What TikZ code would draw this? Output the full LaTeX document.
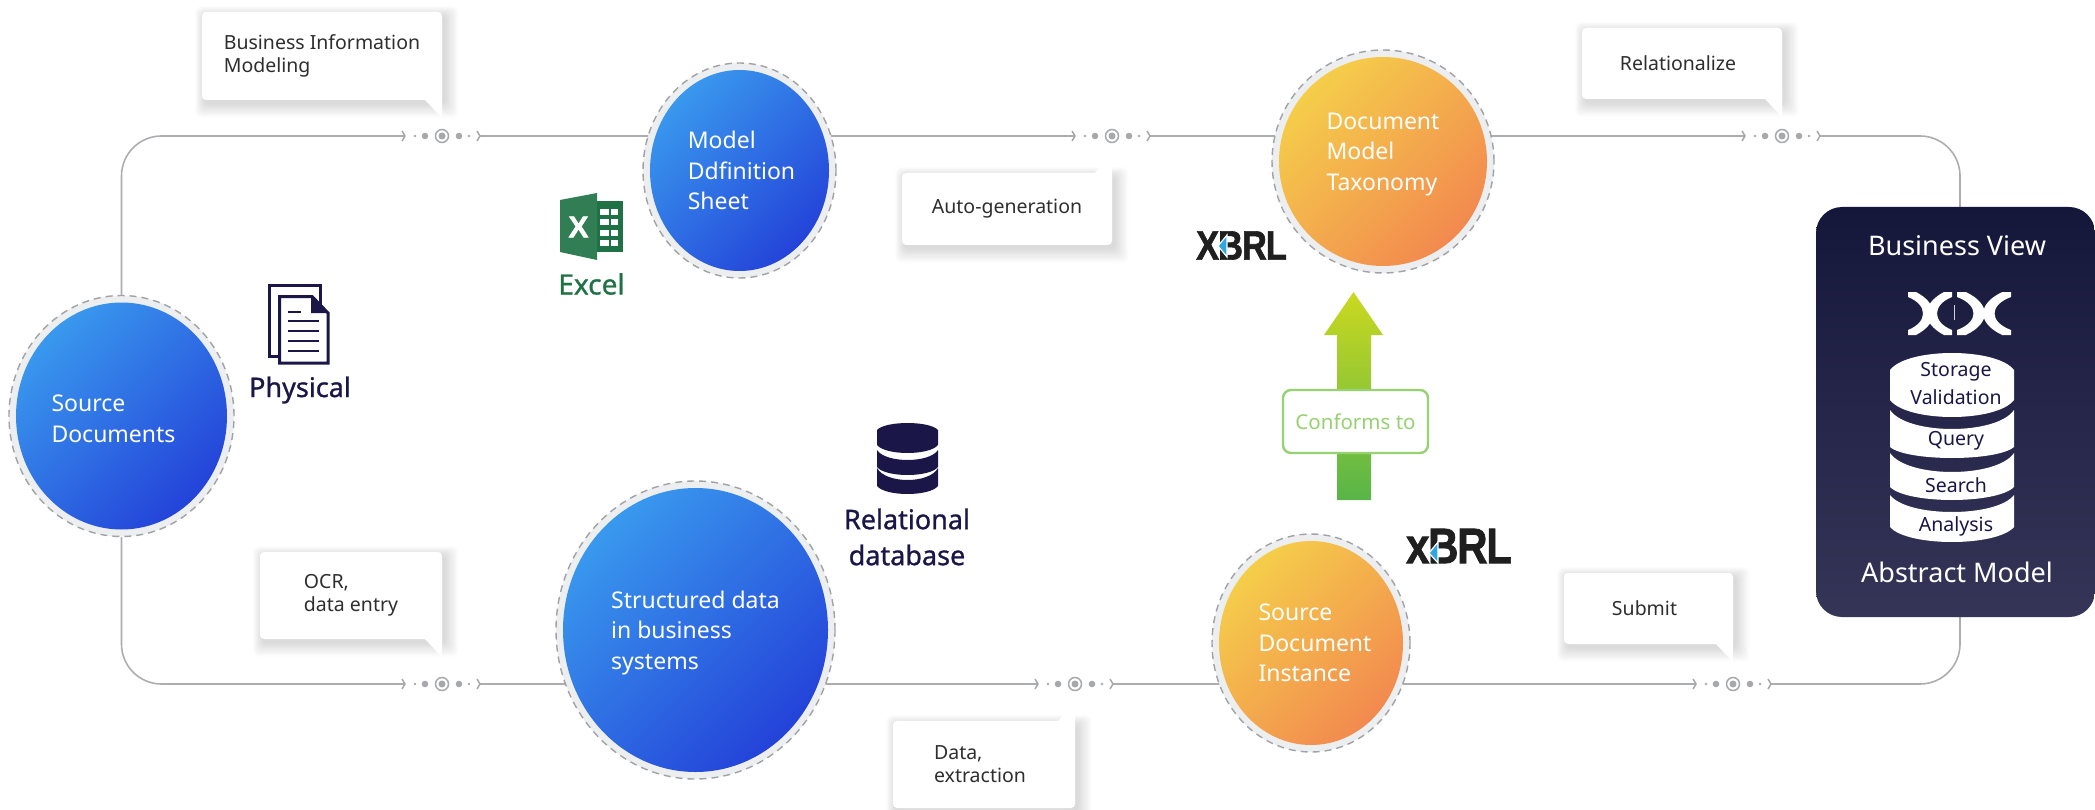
\documentclass[tikz,border=0pt]{standalone}
\usepackage{fontspec}
\setmainfont{Noto Sans}
\newfontfamily\headfont[FakeBold=1]{Noto Sans}
\newfontfamily\logofont[FakeBold=1.6,LetterSpace=-3]{Liberation Sans}
\usetikzlibrary{positioning}
\usetikzlibrary{shapes.geometric}
\pgfdeclarelayer{edgelayer}
\pgfsetlayers{edgelayer,main}
\definecolor{navyink}{HTML}{1A1648}
\definecolor{linegray}{HTML}{ABADB0}
\definecolor{dotgray}{HTML}{A6A8AB}
\definecolor{ringfill}{HTML}{ECEEF0}
\definecolor{ringdash}{HTML}{A0A2A5}
\definecolor{excelgreen}{HTML}{1F7245}
\definecolor{okgreen}{HTML}{96D172}
\definecolor{orbblueA}{HTML}{3A9BEE}
\definecolor{orbblueB}{HTML}{2340D8}
\definecolor{orbsunA}{HTML}{F5D04A}
\definecolor{orbsunB}{HTML}{F2874F}
\definecolor{panelA}{HTML}{15173A}
\definecolor{panelB}{HTML}{353558}
\definecolor{arrowA}{HTML}{CBD820}
\definecolor{arrowB}{HTML}{58B549}
\definecolor{logoblue}{HTML}{2FA8E0}
\tikzset{
  flow/.style={draw=linegray,line width=1.6pt},
  ringdot/.style={circle,draw=dotgray,line width=1.5pt,fill=white,minimum size=13pt,inner sep=0pt},
  bubble/.style={fill=white,rounded corners=4pt,inner sep=0pt,align=left,text=black!82,font=\fontsize{19.5}{23}\selectfont},
  orb/.style={ellipse,draw=ringdash,line width=1.4pt,dash pattern=on 7pt off 5pt,fill=ringfill,inner sep=0pt},
  clabel/.style={text=white,align=left,inner sep=0pt,font=\fontsize{23}{30.5}\selectfont},
  blueorb/.style={orb,path picture={\shade[top color=orbblueA,bottom color=orbblueB,shading angle=45]
    (path picture bounding box.center) ellipse [x radius=\pgfkeysvalueof{/pgf/minimum width}/2-7pt,y radius=\pgfkeysvalueof{/pgf/minimum height}/2-7pt];}},
  orangeorb/.style={orb,path picture={\shade[top color=orbsunA,bottom color=orbsunB,shading angle=45]
    (path picture bounding box.center) ellipse [x radius=\pgfkeysvalueof{/pgf/minimum width}/2-7pt,y radius=\pgfkeysvalueof{/pgf/minimum height}/2-7pt];}},
  headtext/.style={text=navyink,align=center,inner sep=0pt,font=\headfont\fontsize{27}{36}\selectfont},
  stacktext/.style={text=navyink,inner sep=0pt,font=\fontsize{19.5}{24}\selectfont},
  paneltext/.style={text=white,inner sep=0pt,font=\fontsize{27}{32}\selectfont},
  logotext/.style={text=black!88,inner sep=0pt},
  logotri/.style={fill=logoblue,draw=white,line width=1.2pt}
}
% ring in the middle, dots either side, a chevron at each open end
\newcommand{\flowmark}[2]{
  \node (#1) [ringdot] at (#2) {};
  \fill[dotgray] (#1.center) circle (3.5);
  \foreach \d/\r in {-27/1.4,-17/3.3,17/3.3,27/1.4}
    \fill[dotgray] ([xshift=\d pt]#1.center) circle (\r);
  \coordinate (#1in) at ([xshift=-37pt]#1.center);
  \coordinate (#1out) at ([xshift=38pt]#1.center);
  \foreach \e in {#1in,#1out}
    \draw[dotgray,line width=1.5pt] ([shift={(-3,-5)}]\e) -- (\e) -- ([shift={(-3,5)}]\e);
}
% one slice of a stack: style, left, width, side top, middle top, side bottom, middle bottom
\newcommand{\stackseg}[7]{
  \fill[#1] (#2,#4) .. controls (#2+.14*#3,{#4+(#5-#4)*4/3}) and (#2+.86*#3,{#4+(#5-#4)*4/3}) .. (#2+#3,#4)
    -- (#2+#3,#6) .. controls (#2+.86*#3,{#6+(#7-#6)*4/3}) and (#2+.14*#3,{#6+(#7-#6)*4/3}) .. (#2,#6) -- cycle;
}
\begin{document}
\begin{tikzpicture}[x=1pt,y=-1pt]
\useasboundingbox (0,0) rectangle (2095,810);

% circles
\node (src) [blueorb,minimum width=225pt,minimum height=241pt,label={[clabel,xshift=-8pt,yshift=-3pt]center:Source\\Documents}] at (121.5,416) {};
\node (model) [blueorb,minimum width=193pt,minimum height=215pt,label={[clabel,xshift=2pt]center:Model\\Ddfinition\\Sheet}] at (739.5,170.5) {};
\node (taxonomy) [orangeorb,minimum width=222pt,minimum height=223pt,label={[clabel,yshift=7pt]center:Document\\Model\\Taxonomy}] at (1383,161.5) {};
\node (systems) [blueorb,minimum width=279pt,minimum height=298pt,label={[clabel,yshift=-3pt]center:Structured data\\in business\\systems}] at (695.5,630) {};
\node (instance) [orangeorb,minimum width=198pt,minimum height=218pt,label={[clabel,xshift=4pt]center:Source\\Document\\Instance}] at (1311,643) {};

% right panel
\node (panel) [rounded corners=26pt,minimum width=279pt,minimum height=410pt,top color=panelA,bottom color=panelB] at (1955.5,412) {};
\node (bizview) [paneltext] at (1957,246) {Business View};
\node (absmodel) [paneltext] at (1957,572) {Abstract Model};
\foreach \x/\s in {1908/1,1952/-1,1957/1.1,2011/-1.1} {
  \begin{scope}[shift={(\x,292)},xscale=\s]
    \fill[white] (0,0) -- (8,0) .. controls (31,12) and (31,31) .. (8,43) -- (0,43) -- (0,38) .. controls (20,30) and (20,13) .. (0,5) -- cycle;
  \end{scope}
}
\draw[white!80!panelA,line width=.8pt] (1954,305) -- (1954,320);
\stackseg{white}{1890}{124}{370}{353}{400}{417}
\stackseg{white}{1890}{124}{410}{429}{447}{458}
\stackseg{white}{1890}{124}{453}{472}{487}{500}
\stackseg{white}{1890}{124}{495}{512}{527}{542}
\node (storage) [stacktext] at (1956,372) {Storage};
\node (validation) [stacktext] at (1956,397) {Validation};
\node (query) [stacktext] at (1956,441) {Query};
\node (search) [stacktext] at (1956,485) {Search};
\node (analysis) [stacktext] at (1956,526) {Analysis};

% markers on the loop
\flowmark{bizmark}{442,136}
\flowmark{automark}{1112,136}
\flowmark{relmark}{1782,136}
\flowmark{ocrmark}{442,684}
\flowmark{datamark}{1075,684}
\flowmark{submark}{1733,684}

\coordinate (paneltop) at ([xshift=4.5pt]panel.north);
\coordinate (panelbot) at ([xshift=4.5pt]panel.south);
\begin{pgfonlayer}{edgelayer}
  \draw[flow,rounded corners=40pt] (src) |- (bizmarkin);
  \draw[flow] (bizmarkout) -- (bizmarkout -| model);
  \draw[flow] (automarkin -| model) -- (automarkin);
  \draw[flow] (automarkout) -- (automarkout -| taxonomy);
  \draw[flow] (relmarkin -| taxonomy) -- (relmarkin);
  \draw[flow,rounded corners=40pt] (relmarkout) -| (paneltop);
  \draw[flow,rounded corners=40pt] (src) |- (ocrmarkin);
  \draw[flow] (ocrmarkout) -- (ocrmarkout -| systems);
  \draw[flow] (datamarkin -| systems) -- (datamarkin);
  \draw[flow] (datamarkout) -- (datamarkout -| instance);
  \draw[flow] (submarkin -| instance) -- (submarkin);
  \draw[flow,rounded corners=40pt] (submarkout) -| (panelbot);
\end{pgfonlayer}

% callouts
\node (bizcall) [bubble,minimum width=240pt,minimum height=88pt] at (322,56) {Business Information\\Modeling};
\node (autocall) [bubble,minimum width=210pt,minimum height=72pt] at (1007,209) {Auto-generation};
\node (relcall) [bubble,minimum width=200pt,minimum height=71pt] at (1682,63.5) {Relationalize\kern8pt};
\node (ocrcall) [bubble,minimum width=182pt,minimum height=87pt] at (351,595.5) {OCR,\\data entry};
\node (datacall) [bubble,minimum width=182pt,minimum height=87pt] at (984,764.5) {Data,\\extraction\kern8pt};
\node (subcall) [bubble,minimum width=169pt,minimum height=71pt] at (1648.5,608.5) {Submit\kern8pt};
\foreach \n in {bizcall,relcall,ocrcall,subcall}
  \fill[white] (\n.south east) ++(0,-6) -- ++(0,24) -- ++(-17,-18) -- cycle;
\foreach \n in {autocall,datacall}
  \fill[white] (\n.north east) ++(0,6) -- ++(0,-25) -- ++(-17,19) -- cycle;
\begin{pgfonlayer}{edgelayer}
  \foreach \n in {bizcall,autocall,relcall,ocrcall,datacall,subcall}
    \foreach \i in {1,...,12}
      \fill[black,opacity=.011,rounded corners=6pt] ([shift={(3-.8*\i,3+1.2*\i)}]\n.south west) rectangle ([shift={(2+1.2*\i,4-.8*\i)}]\n.north east);
\end{pgfonlayer}

% conforms arrow
\shade[top color=arrowA,bottom color=arrowB] (1353.5,292) -- (1383,335) -- (1371,335) -- (1371,500) -- (1337,500) -- (1337,335) -- (1324,335) -- cycle;
\node (conforms) [draw=okgreen,line width=2.4pt,fill=white,rounded corners=8pt,text=okgreen,minimum width=145pt,minimum height=63pt,inner sep=0pt,
  font=\fontsize{20.5}{24}\selectfont] at (1355.5,421.5) {Conforms to};

% physical icon
\draw[navyink,line width=3pt] (269.5,285.5) rectangle (320,356);
\draw[navyink,line width=3pt,fill=white] (279.5,296.5) -- (312,296.5) -- (328,313) -- (328,363) -- (279.5,363) -- cycle;
\fill[navyink] (311,296) -- (329,313) -- (311,313) -- cycle;
\draw[navyink,line width=2.4pt] (288,312) -- (301,312);
\foreach \y in {321,331,341,351}
  \draw[navyink,line width=2.4pt] (288,\y) -- (319,\y);
\node (physical) [headtext] at (300,390) {Physical};

% excel icon
\fill[excelgreen] (597,201) rectangle (623,252);
\fill[excelgreen!92!white] (560,200) -- (597,193) -- (597,260) -- (560,252) -- cycle;
\foreach \y in {209,219.5,230,240}
  \foreach \x/\w in {599.5/9,611/7}
    \fill[white] (\x,\y) rectangle ++(\w,6);
\node (excelx) [text=white,inner sep=0pt,font=\logofont\bfseries\fontsize{30}{30}\selectfont] at (578.5,227) {X};
\node (excel) [text=excelgreen,inner sep=0pt,font=\headfont\fontsize{28}{30}\selectfont] at (591.5,284) {Excel};

% database icon
\stackseg{navyink}{877}{61}{430}{423}{445}{453}
\stackseg{navyink}{877}{61}{450}{460}{467}{475}
\stackseg{navyink}{877}{61}{468}{480}{486}{494}
\node (reldb) [headtext] at (907,537) {Relational\\database};

% xbrl marks
\node (xbrltop) [logotext,font=\logofont\bfseries\fontsize{41}{41}\selectfont] at (1241.5,245.5) {\scalebox{.84}[1]{XBRL}};
\path[logotri] (1218,246) -- (1227,235) -- (1227,257) -- cycle;
\node (xbrllow) [logotext,font=\logofont\bfseries\fontsize{50}{50}\selectfont] at (1459,546) {\scalebox{.84}[1]{xBRL}};
\path[logotri] (1429,553) -- (1438,542) -- (1438,563) -- cycle;
\end{tikzpicture}
\end{document}
